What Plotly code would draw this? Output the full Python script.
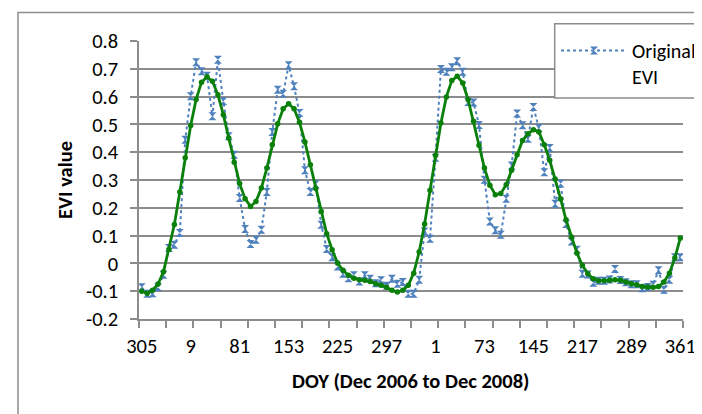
import plotly.graph_objects as go

# ---- data -------------------------------------------------------------
# 8-day composite DOY categories (Dec 2006 .. Dec 2008), 100 categories
doy_2006 = [305, 313, 321, 329, 337, 345, 353, 361]
doy_year = [1, 9, 17, 25, 33, 41, 49, 57, 65, 73, 81, 89, 97, 105, 113, 121,
            129, 137, 145, 153, 161, 169, 177, 185, 193, 201, 209, 217, 225,
            233, 241, 249, 257, 265, 273, 281, 289, 297, 305, 313, 321, 329,
            337, 345, 353, 361]
doy = doy_2006 + doy_year + doy_year

tick_labels = ["305", "9", "81", "153", "225", "297", "1", "73", "145",
               "217", "289", "361"]
tick_positions = [0, 9, 18, 27, 36, 45, 54, 63, 72, 81, 90, 99]

y_tick_vals = [0.8, 0.7, 0.6, 0.5, 0.4, 0.3, 0.2, 0.1, 0.0, -0.1, -0.2]
y_tick_text = ["0.8", "0.7", "0.6", "0.5", "0.4", "0.3", "0.2", "0.1", "0",
               "-0.1", "-0.2"]

x_title = "DOY (Dec 2006 to Dec 2008)"
y_title = "EVI value"

original_evi = [
    -0.086, -0.109, -0.107, -0.086, -0.041, 0.055, 0.067, 0.109, 0.445, 0.601,
    0.724, 0.691, 0.675, 0.529, 0.733, 0.583, 0.457, 0.391, 0.235, 0.124,
    0.070, 0.085, 0.121, 0.257, 0.473, 0.625, 0.610, 0.713, 0.637, 0.541,
    0.335, 0.257, 0.285, 0.139, 0.052, 0.022, -0.011, -0.037, -0.053, -0.043,
    -0.065, -0.043, -0.055, -0.071, -0.061, -0.080, -0.055, -0.073, -0.067, -0.109,
    -0.109, -0.059, 0.115, 0.089, 0.380, 0.699, 0.689, 0.706, 0.727, 0.689,
    0.581, 0.579, 0.498, 0.301, 0.151, 0.119, 0.103, 0.233, 0.352, 0.539,
    0.497, 0.448, 0.563, 0.487, 0.328, 0.415, 0.215, 0.287, 0.142, 0.079,
    0.049, -0.037, -0.040, -0.070, -0.062, -0.062, -0.058, -0.020, -0.060, -0.068,
    -0.075, -0.075, -0.089, -0.085, -0.077, -0.025, -0.095, -0.059, 0.022, 0.022,
]

smoothed_evi = [
    -0.100, -0.107, -0.097, -0.074, -0.030, 0.050, 0.140, 0.257, 0.380, 0.496,
    0.590, 0.652, 0.671, 0.655, 0.607, 0.535, 0.451, 0.364, 0.287, 0.233,
    0.205, 0.223, 0.271, 0.343, 0.427, 0.502, 0.556, 0.574, 0.556, 0.508,
    0.437, 0.355, 0.269, 0.187, 0.107, 0.049, 0.001, -0.025, -0.043, -0.053,
    -0.059, -0.061, -0.065, -0.073, -0.079, -0.086, -0.097, -0.103, -0.097, -0.079,
    -0.035, 0.041, 0.142, 0.263, 0.388, 0.505, 0.599, 0.658, 0.673, 0.649,
    0.589, 0.511, 0.425, 0.343, 0.281, 0.247, 0.251, 0.283, 0.335, 0.391,
    0.442, 0.466, 0.481, 0.473, 0.427, 0.371, 0.304, 0.232, 0.157, 0.095,
    0.037, -0.007, -0.037, -0.055, -0.062, -0.062, -0.061, -0.059, -0.061, -0.067,
    -0.073, -0.077, -0.083, -0.085, -0.086, -0.083, -0.067, -0.035, 0.019, 0.091,
]

x_index = list(range(len(doy)))

# ---- figure -----------------------------------------------------------
FONT = "Calibri, Carlito, Lato, sans-serif"
GRID = "#8c8c8c"
W, H = 702, 414
ML, MR, MT, MB = 131, 27, 33, 103
PW, PH = W - ML - MR, H - MT - MB


def px_x(px):
    return (px - ML) / PW


def px_y(py):
    return (H - MB - py) / PH


fig = go.Figure()

fig.add_trace(go.Scatter(
    x=x_index, y=original_evi, customdata=doy,
    mode="lines+markers", name="Original<br>EVI",
    line=dict(color="#4F81BD", width=2, dash="dot"),
    marker=dict(symbol="hourglass", size=8, color="#4F81BD"),
))

fig.add_trace(go.Scatter(
    x=x_index, y=smoothed_evi, customdata=doy,
    mode="lines+markers", name="Smoothed EVI", showlegend=False,
    line=dict(color="#0A800A", width=2.8),
    marker=dict(symbol="circle", size=5.5, color="#0A800A"),
))

# outer chart border and legend box
fig.add_shape(type="rect", xref="paper", yref="paper",
              x0=px_x(10), x1=px_x(725), y0=px_y(440), y1=px_y(4.5),
              line=dict(color=GRID, width=1.5), fillcolor="rgba(0,0,0,0)",
              layer="below")
fig.add_shape(type="rect", xref="paper", yref="paper",
              x0=px_x(546.7), x1=px_x(725), y0=px_y(90), y1=px_y(15.7),
              line=dict(color=GRID, width=1.5), fillcolor="white",
              layer="above")

# axis titles
fig.add_annotation(text=x_title, xref="paper", yref="paper",
                   x=px_x(402), y=px_y(373), xanchor="center", yanchor="middle",
                   showarrow=False,
                   font=dict(family=FONT, size=20.5, color="black", weight="bold"))
fig.add_annotation(text=y_title, xref="paper", yref="paper",
                   x=px_x(57), y=px_y(172), xanchor="center", yanchor="middle",
                   textangle=-90, showarrow=False,
                   font=dict(family=FONT, size=20.5, color="black", weight="bold"))

fig.update_layout(
    width=W, height=H,
    margin=dict(l=ML, r=MR, t=MT, b=MB, autoexpand=False),
    paper_bgcolor="white", plot_bgcolor="white",
    font=dict(family=FONT, size=20.5, color="black"),
    showlegend=True,
    legend=dict(
        x=px_x(548), y=px_y(23), xanchor="left", yanchor="top",
        bgcolor="rgba(0,0,0,0)", borderwidth=0,
        font=dict(family=FONT, size=20, color="black"),
        itemwidth=66, valign="top",
    ),
)

fig.update_xaxes(
    range=[-0.5, 99.5],
    tickmode="array", tickvals=tick_positions, ticktext=tick_labels,
    ticks="", ticklabelstandoff=8,
    showline=True, linecolor=GRID, linewidth=1.5,
    showgrid=False, zeroline=False,
    minor=dict(tickmode="linear", tick0=-0.5, dtick=5, ticks="outside",
               ticklen=7, tickwidth=1.5, tickcolor=GRID, showgrid=False),
    automargin=False,
)

fig.update_yaxes(
    range=[-0.2, 0.8],
    tickmode="array", tickvals=y_tick_vals, ticktext=y_tick_text,
    ticks="outside", ticklen=7, tickwidth=1.5, tickcolor=GRID,
    ticklabelstandoff=8,
    showline=True, linecolor=GRID, linewidth=1.5,
    showgrid=True, gridcolor=GRID, gridwidth=1.5, zeroline=False,
    automargin=False,
)

fig.write_html("out.html")
